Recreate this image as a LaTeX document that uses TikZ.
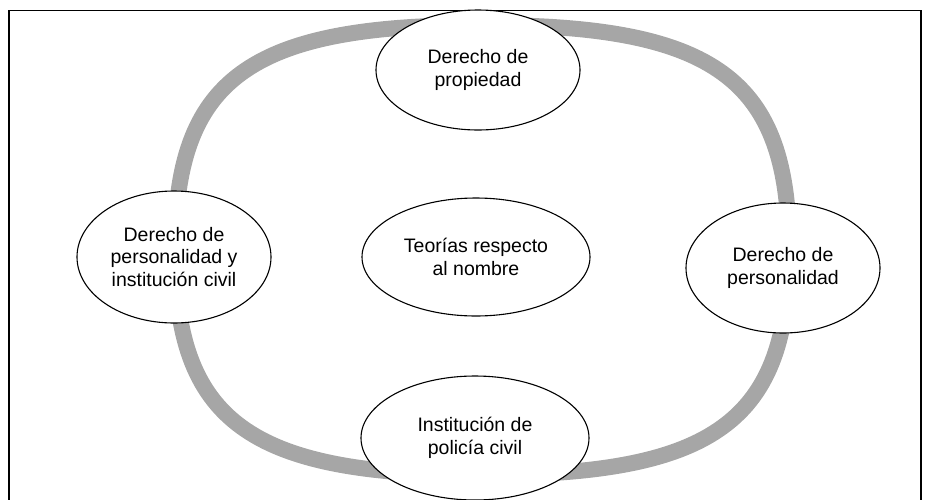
\documentclass[tikz,border=0pt]{standalone}
\usepackage{fontspec}
\setmainfont{Liberation Sans}
\usetikzlibrary{shapes.geometric}
\definecolor{ringgray}{RGB}{166,166,166}
\begin{document}
\begin{tikzpicture}[x=1pt,y=-1pt,
  bubble/.style={ellipse, draw=black, line width=1.1pt, fill=white, inner sep=0pt,
    align=center, font=\fontsize{19.5}{22.5}\selectfont},
  ringline/.style={draw=ringgray, line width=16pt},
  frameline/.style={draw=black, line width=1.5pt}]
\useasboundingbox (0,0) rectangle (927,499);
% frame
\coordinate (fbl) at (9,505);
\coordinate (ftl) at (9,10.5);
\coordinate (ftr) at (921,10.5);
\coordinate (fbr) at (921,505);
\draw[frameline] (fbl) -- (ftl) -- (ftr) -- (fbr);
% ring
\draw[ringline] (789,250) .. controls (789,421) and (715.3,475) .. (482,475)
  .. controls (248.7,475) and (175,421) .. (175,250)
  .. controls (175,79) and (248.7,25) .. (482,25)
  .. controls (715.3,25) and (789,79) .. (789,250) -- cycle;
% nodes
\node[bubble, minimum width=204pt, minimum height=120pt] (top) at (478,70) {Derecho de\\propiedad};
\node[bubble, minimum width=194pt, minimum height=132pt] (left) at (174,257) {Derecho de\\personalidad y\\institución civil};
\node[bubble, minimum width=228pt, minimum height=118pt] (center) at (476,257) {Teorías respecto\\al nombre};
\node[bubble, minimum width=194pt, minimum height=130pt] (right) at (783,268) {Derecho de\\personalidad};
\node[bubble, minimum width=228pt, minimum height=124pt] (bottom) at (475,438) {Institución de\\policía civil};
\end{tikzpicture}
\end{document}
